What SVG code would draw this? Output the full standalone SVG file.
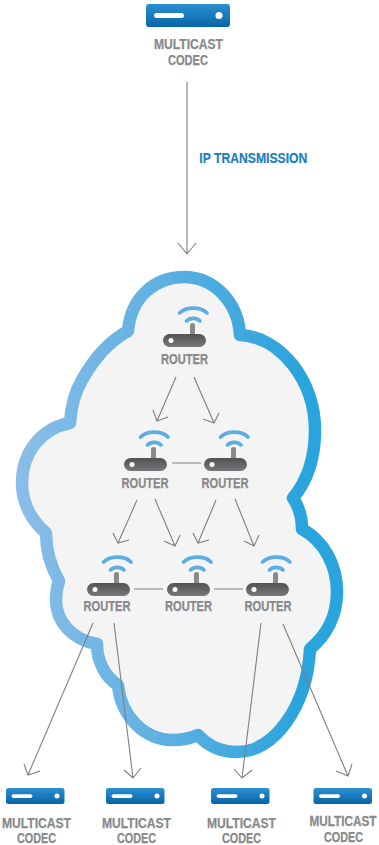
<svg xmlns="http://www.w3.org/2000/svg" width="379" height="845" viewBox="0 0 379 845">
<style>
.lb{font-family:"Liberation Sans",Arial,sans-serif;font-weight:700;font-size:14px;fill:#87898b;stroke:#87898b;stroke-width:.25;text-anchor:middle}
.ip{font-family:"Liberation Sans",Arial,sans-serif;font-weight:700;font-size:14px;fill:#1b7dc0;stroke:#1b7dc0;stroke-width:.2}
.cn{fill:none;stroke:#807e7e;stroke-width:1.1}
.arc{fill:none;stroke:#5aaee4;stroke-width:3.6;stroke-linecap:round}
</style>
<defs>
<linearGradient id="cloud" gradientUnits="userSpaceOnUse" x1="20" y1="0" x2="300" y2="0"><stop offset="0" stop-color="#8abde8"/><stop offset=".5" stop-color="#5fb0e2"/><stop offset="1" stop-color="#2aa4dc"/></linearGradient>
<linearGradient id="codec" x1="0" y1="0" x2="0" y2="1"><stop offset="0" stop-color="#2b90d1"/><stop offset="1" stop-color="#0765a7"/></linearGradient>
<linearGradient id="body" x1="0" y1="0" x2="0" y2="1"><stop offset="0" stop-color="#525254"/><stop offset="1" stop-color="#78787a"/></linearGradient>
<g id="router-icon">
<path class="arc" d="M16.500 -21C23.500 -27.500 37.500 -27.500 44 -21"/>
<path class="arc" d="M23.500 -13C27 -16.500 33.500 -16.500 37 -13"/>
<path d="M27 0V-8.500a2.500 2.500 0 0 1 5 0V0z" fill="#8a8a8c"/>
<rect x="0" y="0" width="43" height="13" rx="6.500" fill="url(#body)"/>
<circle cx="8" cy="6.500" r="2.500" fill="#fff"/>
</g>
<g id="codec-icon">
<rect x="0" y="0" width="58.500" height="16" rx="2.500" fill="url(#codec)"/>
<rect x="5.500" y="6.300" width="21" height="3.600" rx="1.800" fill="#fff"/>
<circle cx="51" cy="8" r="2.500" fill="#fff"/>
</g>
</defs>
<g id="cloud-shape">
<path d="M128 331C131 297 155 277 184 277C214 277 238 302 240 335C281 337 315 381 315 430C315 458 308 480 293 498C299 507 302 517 302 529C324 541 337 565 337 592C337 615 327 635 310 649C307 707 274 752 237 752C222 752 208 746 198 735C191 738 182 740 173 740C144 740 121 716 118 685C105 677 97 661 97 644C73 640 56 622 56 600C56 593 57 587 59 581C51 567 46 551 46 533C31 520 22 502 22 483C22 452 42 428 70 423C71 406 75 392 82 380C92 362 108 342 128 331Z" fill="#f4f4f4" stroke="url(#cloud)" stroke-width="12.500" stroke-linejoin="round"/>
</g>
<g id="connectors">
<path class="cn" d="M187 82V254M178 243L187 254L196 243"/>
<path class="cn" d="M176 377L157 421M153 410L157 421L168 417"/>
<path class="cn" d="M194 377L214 423M203 419L214 423L219 413"/>
<path class="cn" d="M137 500L118 543M113 533L118 543L129 540"/>
<path class="cn" d="M155 499L175 546M164 541L175 546L180 535"/>
<path class="cn" d="M216 500L198 543M193 533L198 543L209 540"/>
<path class="cn" d="M235 499L254 546M244 541L254 546L259 535"/>
<path class="cn" d="M172 463H201M134 589H163M214 589H243"/>
<path class="cn" d="M93 623L28 775M24 764L28 775L40 771"/>
<path class="cn" d="M114 623L133 778M124 770L133 778L141 768"/>
<path class="cn" d="M261 623L242 778M234 769L242 778L252 770"/>
<path class="cn" d="M283 624L348 776M336 771L348 776L352 764"/>
</g>
<text class="ip" x="199.300" y="163" textLength="108" lengthAdjust="spacingAndGlyphs">IP TRANSMISSION</text>
<g id="codec-top">
<rect x="146" y="4" width="84" height="23" rx="3" fill="url(#codec)"/>
<rect x="154" y="13" width="30" height="5" rx="2.500" fill="#fff"/>
<circle cx="219" cy="15.500" r="3.500" fill="#fff"/>
<text class="lb" x="188.500" y="49" textLength="69" lengthAdjust="spacingAndGlyphs">MULTICAST</text>
<text class="lb" x="188" y="65" textLength="40" lengthAdjust="spacingAndGlyphs">CODEC</text>
</g>
<g id="router-1"><use href="#router-icon" x="163" y="334"/><text class="lb" x="184.500" y="364" textLength="47" lengthAdjust="spacingAndGlyphs">ROUTER</text></g>
<g id="router-2"><use href="#router-icon" x="124" y="458"/><text class="lb" x="145" y="488" textLength="47" lengthAdjust="spacingAndGlyphs">ROUTER</text></g>
<g id="router-3"><use href="#router-icon" x="204" y="458"/><text class="lb" x="225" y="488" textLength="47" lengthAdjust="spacingAndGlyphs">ROUTER</text></g>
<g id="router-4"><use href="#router-icon" x="87" y="583"/><text class="lb" x="107" y="611" textLength="47" lengthAdjust="spacingAndGlyphs">ROUTER</text></g>
<g id="router-5"><use href="#router-icon" x="167" y="583"/><text class="lb" x="188.500" y="611" textLength="47" lengthAdjust="spacingAndGlyphs">ROUTER</text></g>
<g id="router-6"><use href="#router-icon" x="246" y="583"/><text class="lb" x="268" y="611" textLength="47" lengthAdjust="spacingAndGlyphs">ROUTER</text></g>
<g id="codec-1"><use href="#codec-icon" x="6" y="788"/><text class="lb" x="36.500" y="828" textLength="69" lengthAdjust="spacingAndGlyphs">MULTICAST</text><text class="lb" x="36.500" y="843" textLength="39" lengthAdjust="spacingAndGlyphs">CODEC</text></g>
<g id="codec-2"><use href="#codec-icon" x="106" y="788"/><text class="lb" x="136.500" y="828" textLength="69" lengthAdjust="spacingAndGlyphs">MULTICAST</text><text class="lb" x="136.500" y="843" textLength="39" lengthAdjust="spacingAndGlyphs">CODEC</text></g>
<g id="codec-3"><use href="#codec-icon" x="211" y="788"/><text class="lb" x="241.500" y="828" textLength="69" lengthAdjust="spacingAndGlyphs">MULTICAST</text><text class="lb" x="241.500" y="843" textLength="39" lengthAdjust="spacingAndGlyphs">CODEC</text></g>
<g id="codec-4"><use href="#codec-icon" x="313.500" y="788"/><text class="lb" transform="translate(343 826) scale(.84 1)">MULTICAST</text><text class="lb" x="343.500" y="842" textLength="39" lengthAdjust="spacingAndGlyphs">CODEC</text></g>
</svg>
